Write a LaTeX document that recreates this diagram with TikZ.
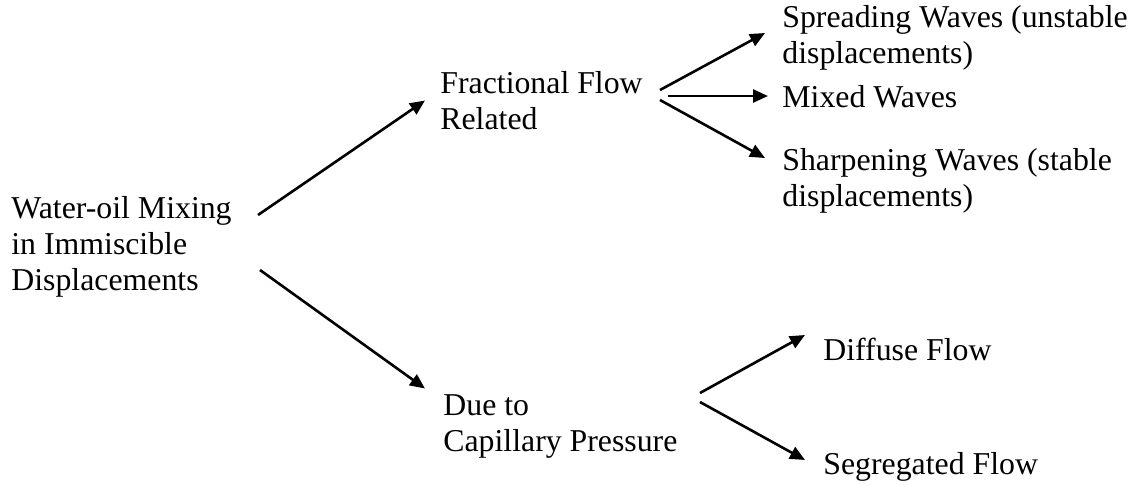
\documentclass[tikz,border=0pt]{standalone}
\usepackage{fontspec}
\setmainfont{Liberation Serif}
\usetikzlibrary{arrows.meta}

\tikzset{
  lbl/.style={anchor=west, align=left, inner sep=0pt, font=\fontsize{15.9}{18}\selectfont},
  arr/.style={-{Triangle[length=7.5pt,width=6.5pt]}, line width=1.3pt}
}

\begin{document}
\begin{tikzpicture}[x=0.5pt, y=-0.5pt]
  \useasboundingbox (0,0) rectangle (1136,484);

  % labels
  \node [lbl] (water) at (11,247) {Water-oil Mixing\\in Immiscible\\Displacements};
  \node [lbl] (frac) at (440,100.5) {Fractional Flow\\Related};
  \node [lbl] (due) at (443,426.5) {Due to\\Capillary Pressure};
  \node [lbl] (spread) at (782,37.5) {Spreading Waves (unstable\\displacements)};
  \node [lbl] (mixed) at (782,97) {Mixed Waves};
  \node [lbl] (sharp) at (782,180.5) {Sharpening Waves (stable\\displacements)};
  \node [lbl] (diffuse) at (823,349) {Diffuse Flow};
  \node [lbl] (seg) at (823,467) {Segregated Flow};

  % first split
  \draw [arr] ([shift={(247,-32)}]water.west) -- ([shift={(-15,0)}]frac.west);
  \draw [arr] ([shift={(249,23)}]water.west) -- ([shift={(-18,-38)}]due.west);

  % fractional flow branches
  \draw [arr] ([shift={(220,-10.5)}]frac.west) -- ([shift={(-17,-4.5)}]spread.west);
  \draw [arr] ([shift={(228,-4.5)}]frac.west) -- ([shift={(-14,-1)}]mixed.west);
  \draw [arr] ([shift={(220,-0.5)}]frac.west) -- ([shift={(-17,-22.5)}]sharp.west);

  % capillary pressure branches
  \draw [arr] ([shift={(257,-33.5)}]due.west) -- ([shift={(-18,-14)}]diffuse.west);
  \draw [arr] ([shift={(257,-24.5)}]due.west) -- ([shift={(-18,-7)}]seg.west);
\end{tikzpicture}
\end{document}
